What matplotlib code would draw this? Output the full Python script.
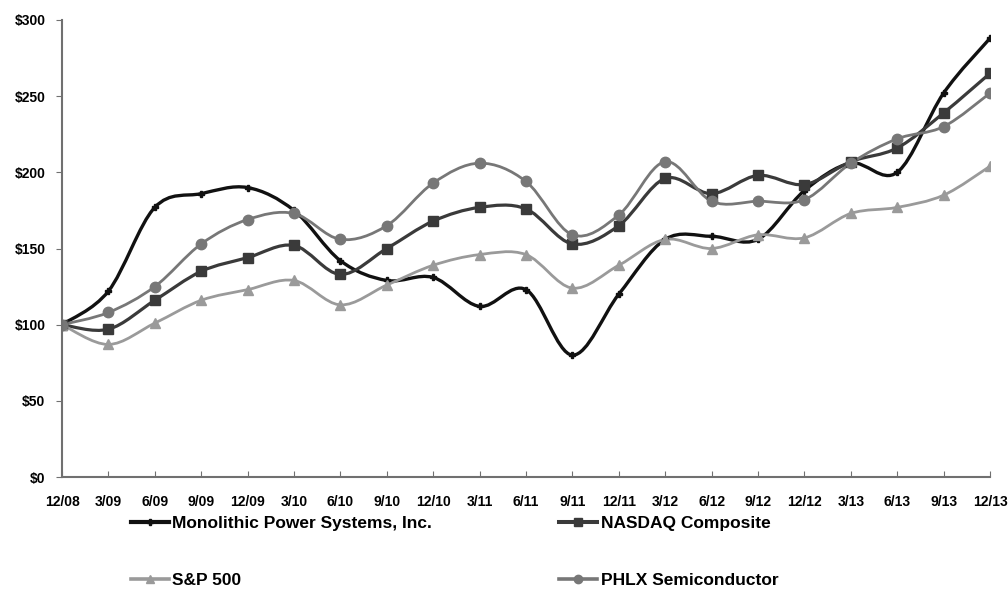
import numpy as np
import matplotlib
matplotlib.use('Agg')
import matplotlib.pyplot as plt
from matplotlib.path import Path
from matplotlib.patches import PathPatch
from matplotlib.lines import Line2D
from matplotlib.ticker import FuncFormatter

# quarter labels
quarters = ['12/08', '3/09', '6/09', '9/09', '12/09', '3/10', '6/10', '9/10', '12/10',
            '3/11', '6/11', '9/11', '12/11', '3/12', '6/12', '9/12', '12/12',
            '3/13', '6/13', '9/13', '12/13']

# cumulative total return values
mpwr = [100, 122, 177, 186, 190, 175, 142, 129, 131, 112, 123, 80, 120,
        156, 158, 156, 188, 206, 200, 252, 288]
nasdaq = [100, 97, 116, 135, 144, 152, 133, 150, 168, 177, 176, 153, 165,
          196, 186, 198, 192, 207, 216, 239, 265]
sp500 = [100, 87, 101, 116, 123, 129, 113, 126, 139, 146, 146, 124, 139,
         156, 150, 159, 157, 173, 177, 185, 204]
phlx = [100, 108, 125, 153, 169, 173, 156, 165, 193, 206, 194, 159, 172,
        207, 181, 181, 182, 206, 222, 230, 252]

plt.rcParams['font.family'] = ['Liberation Sans Narrow', 'Liberation Sans', 'DejaVu Sans']
plt.rcParams['font.weight'] = 'bold'


def smooth_path(x, y):
    # excel style smoothed line: catmull-rom segments as cubic beziers
    pts = np.column_stack([x, y]).astype(float)
    n = len(pts)
    verts = [pts[0]]
    codes = [Path.MOVETO]
    for i in range(n - 1):
        p0 = pts[i - 1] if i > 0 else pts[i]
        p1 = pts[i]
        p2 = pts[i + 1]
        p3 = pts[i + 2] if i + 2 < n else pts[i + 1]
        c1 = p1 + (p2 - p0) / 6.0
        c2 = p2 - (p3 - p1) / 6.0
        verts += [c1, c2, p2]
        codes += [Path.CURVE4] * 3
    return Path(verts, codes)


fig = plt.figure(figsize=(10.08, 6.08), dpi=100)
ax = fig.add_axes([62 / 1008, 1 - 477 / 608, (990 - 62) / 1008, (477 - 20) / 608])

x = np.arange(len(quarters))

series = [
    ('Monolithic Power Systems, Inc.', mpwr, '#111111', 2.4, 'P', 5),
    ('NASDAQ Composite', nasdaq, '#3a3a3a', 2.3, 's', 7.5),
    ('S&P 500', sp500, '#9a9a9a', 2.0, '^', 6.5),
    ('PHLX Semiconductor', phlx, '#777777', 2.0, 'o', 7.5),
]

handles = {}
for name, vals, col, lw, mk, ms in series:
    ax.add_patch(PathPatch(smooth_path(x, vals), facecolor='none', edgecolor=col,
                           lw=lw, capstyle='round', joinstyle='round'))
    ax.plot(x, vals, linestyle='none', marker=mk, color=col, markersize=ms,
            markeredgecolor=col)
    handles[name] = Line2D([], [], color=col, lw=lw + 0.6, marker=mk, markersize=ms * 0.8)

ax.set_xlim(0, len(quarters) - 1)
ax.set_ylim(0, 300)
ax.set_xticks(x)
ax.set_xticklabels(quarters)
ax.set_yticks(np.arange(0, 301, 50))
ax.yaxis.set_major_formatter(FuncFormatter(lambda v, p: '$%d' % v))

for s in ['top', 'right']:
    ax.spines[s].set_visible(False)
for s in ['left', 'bottom']:
    ax.spines[s].set_color('#707070')
    ax.spines[s].set_linewidth(1.5)
ax.tick_params(axis='x', direction='in', length=4, color='#707070', labelsize=10, pad=13)
ax.tick_params(axis='y', direction='out', length=4, color='#707070', labelsize=10, pad=8)

order = ['Monolithic Power Systems, Inc.', 'S&P 500', 'NASDAQ Composite', 'PHLX Semiconductor']
fig.legend([handles[k] for k in order], order, ncol=2, loc='upper left',
           bbox_to_anchor=(115 / 1008, 1 - 500 / 608), frameon=False,
           fontsize=12.5, handlelength=2.2, handletextpad=0.2,
           columnspacing=7.3, labelspacing=2.4)

# Display the graph
fig.savefig('out.png', dpi=100)
